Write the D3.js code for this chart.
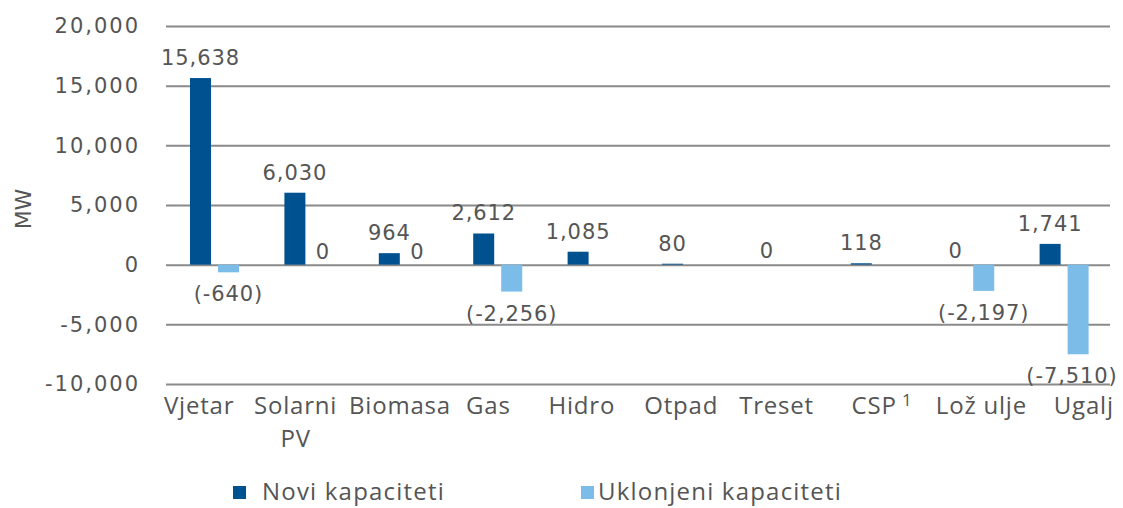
<!DOCTYPE html>
<html>
<head>
<meta charset="utf-8">
<script src="https://cdn.jsdelivr.net/npm/d3@7"></script>
<style>
  body { margin: 0; background: #fff; }
  text { fill: #555; }
</style>
</head>
<body>
<svg id="chart" width="1123" height="508"></svg>
<script>
const categories = ["Vjetar", "Solarni PV", "Biomasa", "Gas", "Hidro", "Otpad", "Treset", "CSP", "Lož ulje", "Ugalj"];
const noviValues = [15638, 6030, 964, 2612, 1085, 80, 0, 118, 0, 1741];
const uklonjeniValues = [-640, 0, 0, -2256, null, null, null, null, -2197, -7510];
const yTicks = [20000, 15000, 10000, 5000, 0, -5000, -10000];
const seriesNames = ["Novi kapaciteti", "Uklonjeni kapaciteti"];

// small horizontal nudges of the category labels, as in the original
const labelNudge = [-14, -12, -2, -8, -9, -4, -3, 8, 13, 21];

const darkBlue = "#00518f";
const lightBlue = "#7bbde8";

const svg = d3.select("#chart");
const plotLeft = 166, plotRight = 1110, plotTop = 26, plotBottom = 384;

const x = d3.scaleBand().domain(categories).range([plotLeft, plotRight]);
const y = d3.scaleLinear().domain([-10000, 20000]).range([plotBottom, plotTop]);
const fmt = d => d3.format(",")(d).replace("−", "-");

// gridlines + tick labels
const yAxis = d3.axisLeft(y).tickValues(yTicks).tickSize(-(plotRight - plotLeft)).tickFormat(fmt);
const gy = svg.append("g").attr("transform", "translate(" + plotLeft + ",0)").call(yAxis);
gy.select(".domain").remove();
gy.selectAll(".tick line").attr("stroke", "#8a8a8a").attr("stroke-width", 2);
gy.selectAll(".tick text")
  .attr("x", -26)
  .style("font-family", "DejaVu Sans")
  .style("font-size", "21px")
  .style("letter-spacing", "2px")
  .style("fill", "#555");

// axis title
svg.append("text")
  .attr("transform", "translate(31,209) rotate(-90)")
  .attr("text-anchor", "middle")
  .style("font-family", "DejaVu Sans")
  .style("font-size", "22px")
  .text("MW");

const barW = 21;
const off1 = 24, off2 = 52;

// Novi kapaciteti bars
svg.append("g").selectAll("rect")
  .data(noviValues)
  .enter()
  .append("rect")
  .attr("x", (d, i) => x(categories[i]) + off1)
  .attr("width", barW)
  .attr("y", d => y(Math.max(d, 0)))
  .attr("height", d => Math.abs(y(d) - y(0)))
  .attr("fill", darkBlue);

// Uklonjeni kapaciteti bars
svg.append("g").selectAll("rect")
  .data(uklonjeniValues)
  .enter()
  .append("rect")
  .attr("x", (d, i) => x(categories[i]) + off2)
  .attr("width", barW)
  .attr("y", d => y(Math.max(d || 0, 0)))
  .attr("height", d => Math.abs(y(d || 0) - y(0)))
  .attr("fill", lightBlue);

const labelStyle = sel => sel
  .style("font-family", "DejaVu Sans")
  .style("font-size", "21px")
  .style("letter-spacing", "0.9px")
  .attr("text-anchor", "middle");

// value labels, new capacity
svg.append("g").selectAll("text")
  .data(noviValues)
  .enter()
  .append("text")
  .call(labelStyle)
  .attr("x", (d, i) => x(categories[i]) + off1 + barW / 2)
  .attr("y", d => y(d) - (d === 0 ? 7 : 13))
  .text(d => fmt(d));

// value labels, removed capacity
svg.append("g").selectAll("text")
  .data(uklonjeniValues.map((v, i) => ({ v: v, i: i })).filter(d => d.v !== null))
  .enter()
  .append("text")
  .call(labelStyle)
  .attr("x", d => Math.min(x(categories[d.i]) + off2 + barW / 2, 1072))
  .attr("y", d => d.v < 0 ? y(d.v) + 29 : y(0) - 6)
  .text(d => d.v < 0 ? "(" + fmt(d.v) + ")" : "0");

// category labels
const catG = svg.append("g")
  .style("font-family", "Open Sans")
  .style("font-size", "24px")
  .style("letter-spacing", "0.8px");
categories.forEach((c, i) => {
  const cx = x(c) + x.bandwidth() / 2 + labelNudge[i];
  const t = catG.append("text")
    .attr("x", cx)
    .attr("y", plotBottom + 30)
    .attr("text-anchor", "middle");
  if (c === "Solarni PV") {
    t.append("tspan").attr("x", cx).text("Solarni");
    t.append("tspan").attr("x", cx).attr("dy", 33).text("PV");
  } else if (c === "CSP") {
    t.text("CSP");
    t.append("tspan").attr("dy", -8).style("font-size", "17px").text(" 1");
  } else {
    t.text(c);
  }
});

// legend
const legend = svg.append("g")
  .style("font-family", "Open Sans")
  .style("font-size", "24px")
  .style("letter-spacing", "1.2px");
const legendX = [233, 581];
seriesNames.forEach((name, i) => {
  legend.append("rect")
    .attr("x", legendX[i]).attr("y", 486)
    .attr("width", 13).attr("height", 13)
    .attr("fill", i === 0 ? darkBlue : lightBlue);
  legend.append("text")
    .attr("x", legendX[i] + (i === 0 ? 29 : 17))
    .attr("y", 500)
    .text(name);
});
</script>
</body>
</html>
